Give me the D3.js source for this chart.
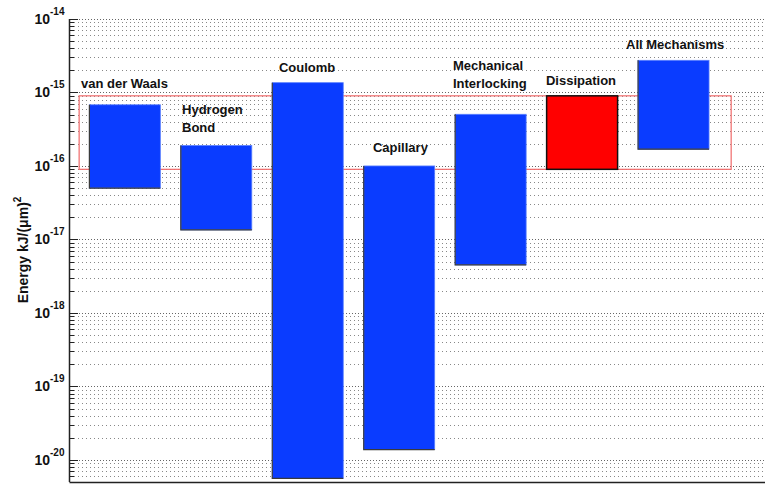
<!doctype html>
<html lang="en">
<head>
<meta charset="utf-8">
<title>Adhesion energy by mechanism</title>
<script src="https://d3js.org/d3.v7.min.js"></script>
<style>
  body { margin: 0; background: #fff; }
  svg { display: block; font-family: "Liberation Sans", Arial, sans-serif; }
</style>
</head>
<body>
<svg id="chart" width="765" height="484"></svg>
<script>
// mechanisms and their energy ranges, kJ/(um)^2
const mechanisms = ["van der Waals", "Hydrogen Bond", "Coulomb", "Capillary",
                    "Mechanical Interlocking", "Dissipation", "All Mechanisms"];
const lowValues  = [5.0e-17, 1.35e-17, 5.6e-21, 1.38e-20, 4.5e-18, 9.0e-17, 1.69e-16];
const highValues = [6.8e-16, 1.9e-16, 1.36e-15, 1.0e-16, 5.05e-16, 9.0e-16, 2.74e-15];
// text lines of each label, and where the label sits (x in category units, y as energy)
const labelLines = [["van der Waals"], ["Hydrogen", "Bond"], ["Coulomb"], ["Capillary"],
                    ["Mechanical", "Interlocking"], ["Dissipation"], ["All Mechanisms"]];
const labelX = [0.52, 1.625, 2.685, 3.713, 4.588, 5.605, 6.48];
const labelY = [1.15e-15, 5.1e-16, 1.9e-15, 1.55e-16, 2.02e-15, 1.26e-15, 3.9e-15];
const highlight = "Dissipation";
const yDomain = [5e-21, 1e-14];

const svg = d3.select("#chart");
const mLeft = 70, mRight = 765, mTop = 19, mBottom = 482;

const x = d3.scaleLinear().domain([0.4, 8]).range([mLeft, mRight]);
const y = d3.scaleLog().domain(yDomain).range([mBottom, mTop]);

// dotted grid on every tick
const ticks = y.ticks();
const isMajor = v => Math.abs(Math.log10(v) - Math.round(Math.log10(v))) < 1e-6;
svg.append("g").selectAll("line").data(ticks).join("line")
    .attr("x1", mLeft).attr("x2", mRight)
    .attr("y1", d => Math.round(y(d)) + 0.5).attr("y2", d => Math.round(y(d)) + 0.5)
    .attr("stroke", d => isMajor(d) ? "#666" : "#888").attr("stroke-width", 1)
    .attr("stroke-dasharray", d => isMajor(d) ? "1,2" : "1,3");

// highlight band matching the dissipation range
const hi = mechanisms.indexOf(highlight);
svg.append("rect")
    .attr("x", x(0.5)).attr("y", y(highValues[hi]))
    .attr("width", x(7.63) - x(0.5))
    .attr("height", y(lowValues[hi]) - y(highValues[hi]))
    .attr("fill", "none").attr("stroke", "#f06a6a").attr("stroke-width", 1.2);

// floating bars
const half = 0.388;
const bars = svg.append("g").selectAll("g").data(mechanisms).join("g");
bars.append("rect")
    .attr("x", (d, i) => x(i + 1 - half))
    .attr("y", (d, i) => y(highValues[i]))
    .attr("width", x(1 + half) - x(1 - half))
    .attr("height", (d, i) => y(lowValues[i]) - y(highValues[i]))
    .attr("fill", d => d === highlight ? "#ff0000" : "#0a3cff")
    .attr("stroke", d => d === highlight ? "#111" : "#5a80ff")
    .attr("stroke-width", d => d === highlight ? 1.5 : 0.8);
bars.filter(d => d !== highlight).append("path")
    .attr("d", d => {
        const i = mechanisms.indexOf(d);
        const x0 = x(i + 1 - half), x1 = x(i + 1 + half);
        return `M${x0},${y(highValues[i])}V${y(lowValues[i])}H${x1}`;
    })
    .attr("fill", "none").attr("stroke", "#3a3a3a").attr("stroke-width", 1.2);

// labels
svg.append("g").selectAll("text").data(mechanisms).join("text")
    .attr("x", (d, i) => x(labelX[i]))
    .attr("y", (d, i) => y(labelY[i]))
    .attr("font-size", 13).attr("font-weight", "bold").attr("fill", "#111")
    .each(function(d, i) {
        d3.select(this).selectAll("tspan").data(labelLines[i]).join("tspan")
            .attr("x", x(labelX[i]))
            .attr("dy", (t, j) => j === 0 ? 0 : 18)
            .text(t => t);
    });

// axes
svg.append("line").attr("x1", mLeft - 0.5).attr("x2", mLeft - 0.5)
    .attr("y1", mTop).attr("y2", mBottom).attr("stroke", "#222").attr("stroke-width", 1.5);
svg.append("line").attr("x1", mLeft - 0.5).attr("x2", mRight)
    .attr("y1", mBottom + 0.5).attr("y2", mBottom + 0.5).attr("stroke", "#222").attr("stroke-width", 1.5);
svg.append("g").selectAll("line").data(ticks).join("line")
    .attr("x1", mLeft).attr("x2", d => mLeft + (isMajor(d) ? 8 : 4))
    .attr("y1", d => Math.round(y(d)) + 0.5).attr("y2", d => Math.round(y(d)) + 0.5)
    .attr("stroke", "#222").attr("stroke-width", 1);

// tick labels as 10 with a superscript exponent
const majors = ticks.filter(isMajor);
const tickG = svg.append("g").attr("font-weight", "bold").attr("fill", "#111");
tickG.selectAll("text.base").data(majors).join("text").attr("class", "base")
    .attr("x", 50).attr("y", d => y(d) + 5)
    .attr("text-anchor", "end").attr("font-size", 14).text("10");
tickG.selectAll("text.exp").data(majors).join("text").attr("class", "exp")
    .attr("x", 50).attr("y", d => y(d) - 4)
    .attr("font-size", 10)
    .text(d => "-" + Math.round(-Math.log10(d)));

// y axis title
const title = svg.append("text")
    .attr("transform", "translate(28,250) rotate(-90)")
    .attr("text-anchor", "middle").attr("font-size", 14).attr("font-weight", "bold")
    .attr("fill", "#111");
title.append("tspan").text("Energy kJ/(\u03bcm)");
title.append("tspan").attr("font-size", 10).attr("dy", -7).text("2");
</script>
</body>
</html>
